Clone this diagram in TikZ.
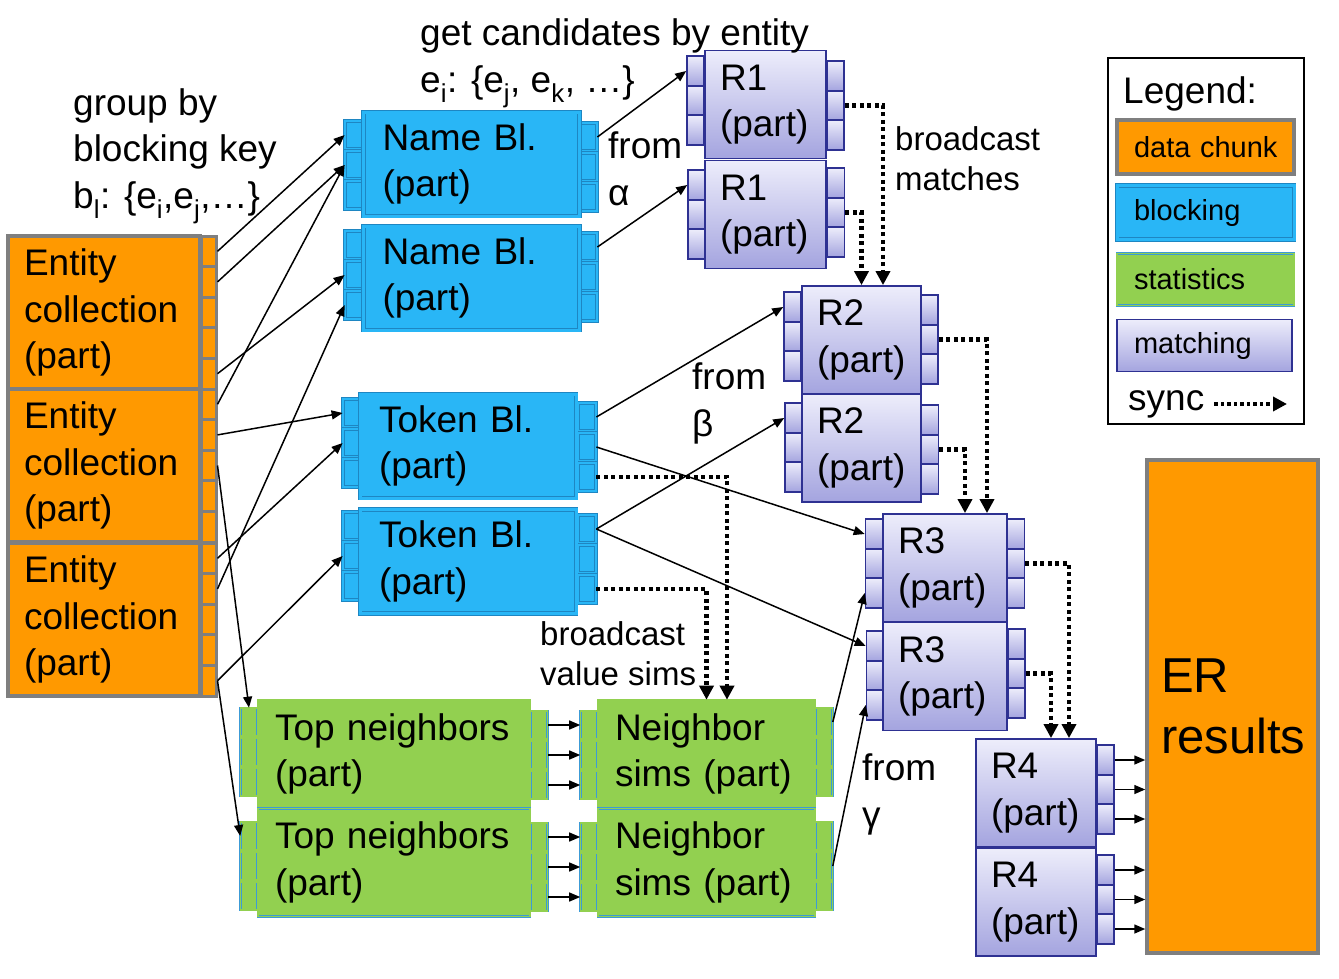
\documentclass[tikz,border=0pt]{standalone}
\usepackage{fontspec}
\setmainfont{Liberation Sans}
\usepackage{tikz}
\usetikzlibrary{arrows.meta}
\definecolor{chunk}{HTML}{FF9900}
\definecolor{chunkline}{HTML}{7F7F7F}
\definecolor{blk}{HTML}{29B6F6}
\definecolor{blkline}{HTML}{1E86C2}
\definecolor{stat}{HTML}{92D050}
\definecolor{statline}{HTML}{3C9BD6}
\definecolor{matchtop}{HTML}{EDEDFB}
\definecolor{matchbot}{HTML}{A4A4DF}
\definecolor{matchline}{HTML}{2E3192}
\newcommand{\bigtxt}{\fontsize{37}{46.5}\selectfont}
\newcommand{\midtxt}{\fontsize{33}{40}\selectfont}
\newcommand{\legtxt}{\fontsize{29}{35}\selectfont}
\newcommand{\ertxt}{\fontsize{49}{61}\selectfont}
\tikzset{
  chunkbox/.style={draw=chunkline,line width=3.5pt,fill=chunk,align=left,inner xsep=16pt,inner ysep=0pt,font=\bigtxt},
  chunkport/.style={draw=chunkline,line width=3pt,fill=chunk,minimum width=15pt,minimum height=30.6pt,inner sep=0pt},
  blkbox/.style={draw=blkline,line width=0.9pt,double=blk,double distance=3pt,fill=blk,align=left,inner xsep=19pt,inner ysep=0pt,font=\bigtxt,minimum width=216pt,minimum height=104pt,text width=178pt},
  blkport/.style={draw=blkline,line width=0.8pt,double=blk,double distance=2.2pt,fill=blk,minimum width=18pt,minimum height=28pt,inner sep=0pt},
  statbox/.style={draw=statline,line width=0.6pt,double=stat,double distance=1.4pt,fill=stat,align=left,inner xsep=17pt,inner ysep=0pt,font=\bigtxt,minimum height=108pt},
  statport/.style={draw=statline,line width=0.6pt,double=stat,double distance=1.2pt,fill=stat,minimum width=17pt,minimum height=28pt,inner sep=0pt},
  matchbox/.style={draw=matchline,line width=1.8pt,top color=matchtop,bottom color=matchbot,align=left,inner xsep=15pt,inner ysep=0pt,font=\bigtxt,minimum height=108pt},
  matchport/.style={draw=matchline,line width=1.6pt,top color=matchtop,bottom color=matchbot,minimum width=17pt,minimum height=29.5pt,inner sep=0pt},
  lbl/.style={font=\bigtxt,align=left,inner sep=0pt,anchor=base west},
  legitem/.style={align=left,inner xsep=17pt,inner ysep=0pt,font=\legtxt,text width=143pt},
  flow/.style={-{Triangle[length=11pt,width=9pt]},line width=1.5pt},
  sync/.style={-{Triangle[length=14pt,width=14pt]},line width=4.5pt,dash pattern=on 4pt off 3.5pt}
}

\begin{document}
\begin{tikzpicture}[x=1pt,y=-1pt]
\fill[white] (0,0) rectangle (1339,978);
\useasboundingbox (0,0) rectangle (1339,978);

% data chunks
\foreach \k/\yy in {1/236,2/389,3/543}
  \foreach \i in {1,...,5}
    \node[chunkport] (ec\k-p\i) at (208.5,\yy+30.6*\i-15.3) {};
\node[chunkbox,minimum width=192pt,minimum height=153pt,text width=160pt] (ec1) at (104,312.5) {Entity\\collection\\(part)};
\node[chunkbox,minimum width=192pt,minimum height=153pt,text width=160pt] (ec2) at (104,465.5) {Entity\\collection\\(part)};
\node[chunkbox,minimum width=192pt,minimum height=153pt,text width=160pt] (ec3) at (104,619.5) {Entity\\collection\\(part)};

% blocking
\foreach \n/\xl/\yl/\xr/\yr in {nb1/354/135/588/137,nb2/354/245/588/247,tb1/352/413/587/417,tb2/352/526/587/529}
  \foreach \i in {1,2,3}{
    \node[blkport] (\n-l\i) at (\xl,\yl+30*\i-30) {};
    \node[blkport] (\n-r\i) at (\xr,\yr+30*\i-30) {};
  }
\node[blkbox] (nb1) at (471.5,164) {Name Bl.\\(part)};
\node[blkbox] (nb2) at (471.5,278) {Name Bl.\\(part)};
\node[blkbox] (tb1) at (468,446) {Token Bl.\\(part)};
\node[blkbox] (tb2) at (468,561.5) {Token Bl.\\(part)};

% statistics
\foreach \n/\xl/\yl/\xr/\yr in {tn1/249/722/539/725,tn2/249/836/539/837,ns1/589/725/824/722,ns2/589/837/824/836}
  \foreach \i in {1,2,3}{
    \node[statport] (\n-l\i) at (\xl,\yl+30*\i-30) {};
    \node[statport] (\n-r\i) at (\xr,\yr+30*\i-30) {};
  }
\node[statbox,minimum width=272pt,text width=238pt] (tn1) at (394,754) {Top neighbors\\(part)};
\node[statbox,minimum width=272pt,text width=238pt] (tn2) at (394,862.5) {Top neighbors\\(part)};
\node[statbox,minimum width=217pt,text width=183pt] (ns1) at (706.5,754) {Neighbor\\sims (part)};
\node[statbox,minimum width=217pt,text width=183pt] (ns2) at (706.5,862.5) {Neighbor\\sims (part)};

% matching
\foreach \n/\xl/\yl/\xr/\yr in {r1a/695.5/71/835.5/76,r1b/696.5/185/836/183,r2a/792.5/307/929.5/310,r2b/793.5/418/930/420,r3a/874/534/1016/534,r3b/875/646/1016.5/644}
  \foreach \i in {1,2,3}{
    \node[matchport] (\n-l\i) at (\xl,\yl+29.5*\i-29.5) {};
    \node[matchport] (\n-r\i) at (\xr,\yr+29.5*\i-29.5) {};
  }
\foreach \n/\yr in {r4a/760,r4b/870}
  \foreach \i in {1,2,3}
    \node[matchport] (\n-r\i) at (1105.5,\yr+29.5*\i-29.5) {};
\node[matchbox,minimum width=121pt,text width=91pt] (r1a) at (765.5,104.5) {R1\\(part)};
\node[matchbox,minimum width=121pt,text width=91pt] (r1b) at (765.5,214.5) {R1\\(part)};
\node[matchbox,minimum width=119pt,text width=89pt] (r2a) at (861.5,340) {R2\\(part)};
\node[matchbox,minimum width=119pt,text width=89pt] (r2b) at (861.5,448) {R2\\(part)};
\node[matchbox,minimum width=124pt,text width=94pt] (r3a) at (945,568) {R3\\(part)};
\node[matchbox,minimum width=124pt,text width=94pt] (r3b) at (945,676.5) {R3\\(part)};
\node[matchbox,minimum width=120pt,text width=90pt] (r4a) at (1036,793) {R4\\(part)};
\node[matchbox,minimum width=120pt,text width=90pt] (r4b) at (1036,902) {R4\\(part)};

\node[chunkbox,font=\ertxt,minimum width=171pt,minimum height=493pt,inner xsep=14pt,text width=143pt] (er) at (1232.5,706.5) {ER\\results};

% legend
\node[draw=black,line width=1.5pt,minimum width=196pt,minimum height=366pt] (leg) at (1206,241) {};
\node[lbl] (legtitle) at (1123,103) {Legend:};
\node[chunkbox,legitem,minimum width=177pt,minimum height=54pt] (legchunk) at (1205.5,147) {\mbox{data chunk}};
\node[blkbox,legitem,minimum width=177pt,minimum height=54pt] (legblk) at (1205.5,212.5) {blocking};
\node[statbox,legitem,minimum width=177pt,minimum height=52pt] (legstat) at (1205.5,279.5) {statistics};
\node[matchbox,legitem,minimum width=175pt,minimum height=52pt,text width=141pt] (legmatch) at (1204.5,345.5) {matching};
\node[lbl] (synclbl) at (1128,410) {sync};
\coordinate (syncend) at (1287,404);
\draw[sync,line width=3.5pt,dash pattern=on 3.5pt off 3pt,shorten <=10pt] (synclbl.east |- syncend) -- (syncend);

% data flow
\draw[flow] (ec1-p1.east) -- (nb1-l1.west);
\draw[flow] (ec1-p2.east) -- (nb1-l2.west);
\draw[flow] (ec1-p5.east) -- (nb2-l2.west);
\draw[flow] (ec2-p1.east) -- (nb1-l2.west);
\draw[flow] (ec2-p2.east) -- (tb1-l1.west);
\draw[flow] (ec2-p3.east) -- (tn1-l1.north);
\draw[flow] (ec3-p1.east) -- (tb1-l2.west);
\draw[flow] (ec3-p2.east) -- (nb2-l3.west);
\draw[flow] (ec3-p5.east) -- (tb2-l2.west);
\draw[flow] (ec3-p5.east) -- (tn2-l1.west);
\draw[flow] (nb1-r1.east) -- (r1a-l1.west);
\draw[flow] (nb2-r1.east) -- (r1b-l1.west);
\draw[flow] (tb1-r1.east) -- (r2a-l1.west);
\draw[flow] (tb1-r2.east) -- (r3a-l1.west);
\draw[flow] (tb2-r1.east) -- (r2b-l1.west);
\draw[flow] (tb2-r1.east) -- (r3b-l1.west);
\draw[flow] (ns1-r1.east) -- (r3a-l3.west);
\draw[flow] (ns2-r2.east) -- (r3b-l3.west);
\foreach \i in {1,2,3}{
  \draw[flow] (tn1-r\i.east) -- (ns1-l\i.west);
  \draw[flow] (tn2-r\i.east) -- (ns2-l\i.west);
  \draw[flow] (r4a-r\i.east) -- (r4a-r\i.east -| er.west);
  \draw[flow] (r4b-r\i.east) -- (r4b-r\i.east -| er.west);
}

% sync
\draw[sync] (r1a-r2.east) -| ([xshift=21.5pt]r2a.north);
\draw[sync] (r1b-r2.east) -| (r2a.north);
\draw[sync] (r2a-r2.east) -| ([xshift=42pt]r3a.north);
\draw[sync] (r2b-r2.east) -| ([xshift=20pt]r3a.north);
\draw[sync] (r3a-r2.east) -| ([xshift=33pt]r4a.north);
\draw[sync] (r3b-r2.east) -| ([xshift=15pt]r4a.north);
\draw[sync] (tb1-r3.east) -| ([xshift=20.5pt]ns1.north);
\draw[sync] (tb2-r3.east) -| (ns1.north);

% labels (base = last line)
\node[lbl] (grp) at (73,208) {group by\\blocking key\\b\textsubscript{l}: \{e\textsubscript{i},e\textsubscript{j},…\}};
\node[lbl] (cand) at (420,92) {get candidates by entity\\e\textsubscript{i}: \{e\textsubscript{j}, e\textsubscript{k}, …\}};
\node[lbl] (fromA) at (608,205) {from\\α};
\node[lbl,font=\midtxt] (bcm) at (895,190) {broadcast\\matches};
\node[lbl] (fromB) at (692,436) {from\\β};
\node[lbl,font=\midtxt] (bcv) at (540,685) {broadcast\\value sims};
\node[lbl] (fromC) at (862,827) {from\\γ};
\end{tikzpicture}
\end{document}
